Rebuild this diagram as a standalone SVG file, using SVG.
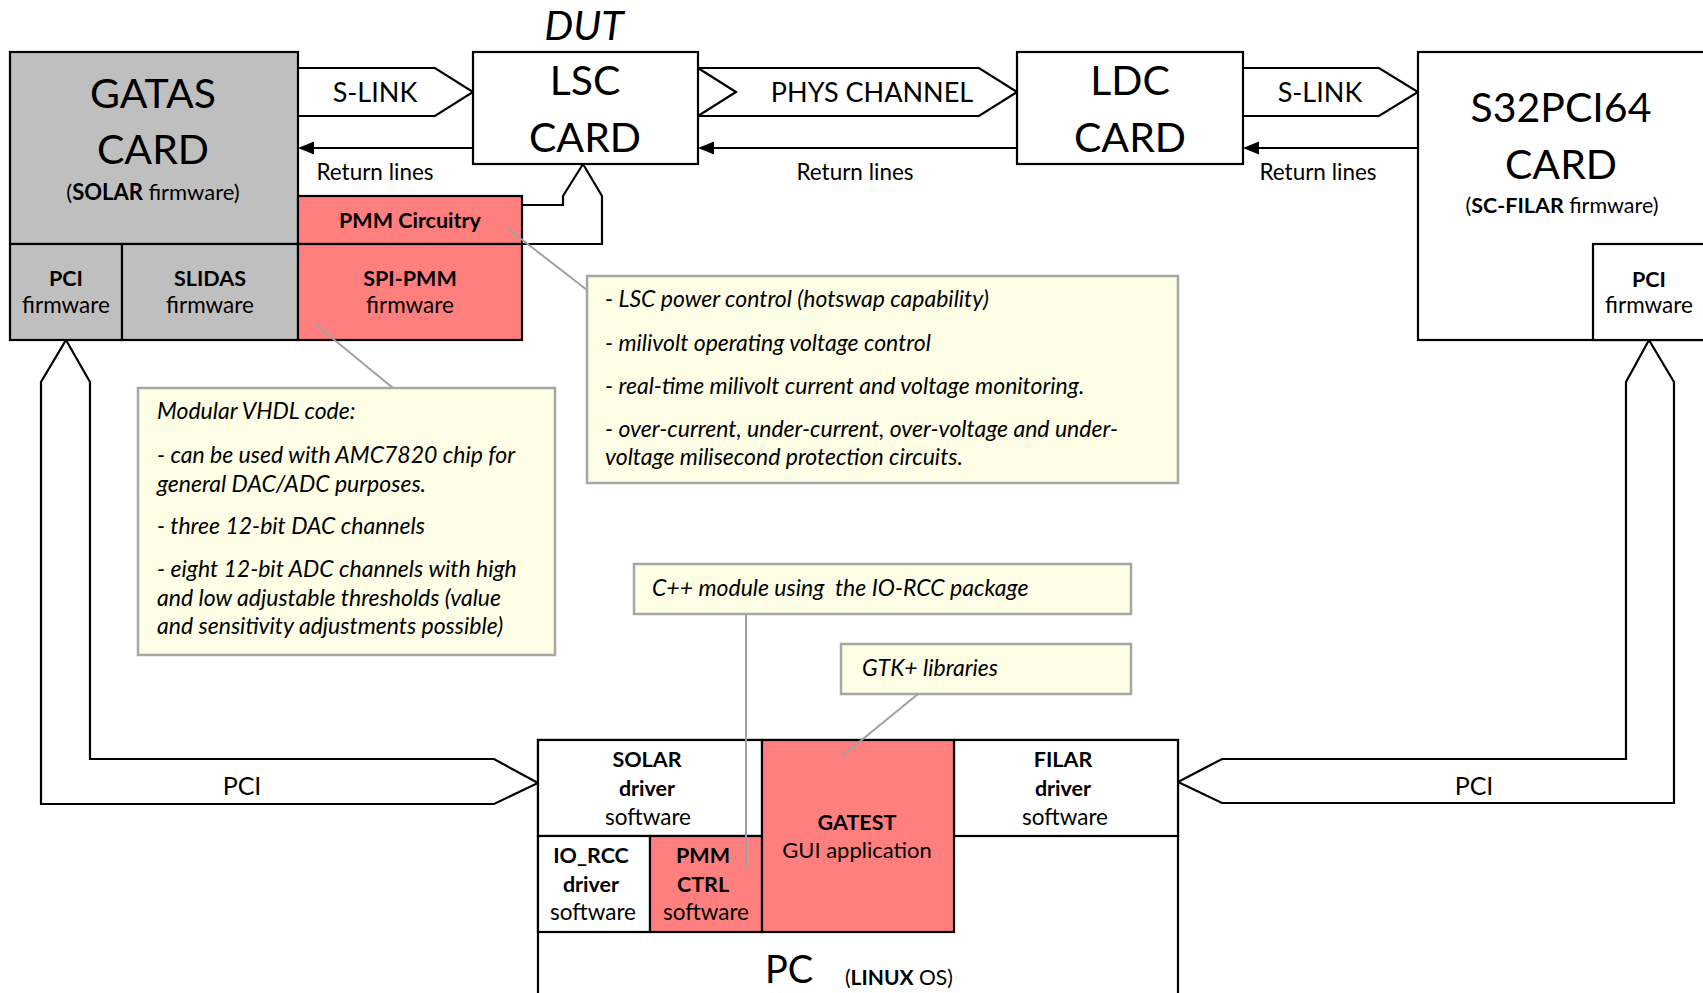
<svg xmlns="http://www.w3.org/2000/svg" width="1703" height="993" viewBox="0 0 1703 993">
<defs>
<style>
text{font-family:"Lato","Open Sans",sans-serif;fill:#000}
.c{text-anchor:middle}
.b{font-weight:bold}
.i{font-style:italic}
.box{stroke:#000;stroke-width:2.2}
.gray{fill:#BFBFBF}
.pink{fill:#FF7F7F}
.white{fill:#fff}
.note{fill:#FEFEE6;stroke:#A6A6A6;stroke-width:2.5}
.call{stroke:#A0A0A0;stroke-width:2;fill:none}
.conn{stroke:#000;stroke-width:2.2;fill:none}
.fat{stroke:#000;stroke-width:2.2;fill:#fff}
.big{font-size:41px}
.mid{font-size:27px}
.sm{font-size:22.5px}
.sb{font-size:21.5px;font-weight:bold}
.rl{font-size:22.5px}
.nt{font-size:23px;font-style:italic;white-space:pre}
</style>
</defs>

<g id="connectors">
<path class="fat" d="M298,68 H435 L473,92 L435,116 H298"/>
<path class="fat" d="M698,68 H979 L1017,92 L979,116 H698 L736,92 Z"/>
<path class="fat" d="M1243,68 H1379 L1418,92 L1379,116 H1243"/>
<line class="conn" x1="473" y1="148" x2="314" y2="148"/>
<path d="M298,148 L314,141.5 L314,154.5 Z" fill="#000"/>
<line class="conn" x1="1017" y1="148" x2="714" y2="148"/>
<path d="M698,148 L714,141.5 L714,154.5 Z" fill="#000"/>
<line class="conn" x1="1418" y1="148" x2="1259" y2="148"/>
<path d="M1243,148 L1259,141.5 L1259,154.5 Z" fill="#000"/>
<path class="conn" d="M522,205 H563 V196 L583,164 L602,196 V244 H522"/>
<path class="fat" d="M66,340 L90,382 V759 H494 L538,783 L494,804 H41 V382 Z"/>
<path class="fat" d="M1649,340 L1674,382 V803 H1222 L1178,782 L1222,759 H1626 V382 Z"/>
<text class="c" x="242" y="795" style="font-size:25px">PCI</text>
<text class="c" x="1474" y="795" style="font-size:25px">PCI</text>
<text class="c mid" x="375" y="102">S-LINK</text>
<text class="c mid" x="872" y="102">PHYS CHANNEL</text>
<text class="c mid" x="1320" y="102">S-LINK</text>
<text class="c rl" x="375" y="180">Return lines</text>
<text class="c rl" x="855" y="180">Return lines</text>
<text class="c rl" x="1318" y="180">Return lines</text>
</g>

<g id="gatas">
<rect class="box gray" x="10" y="52" width="288" height="192"/>
<text class="c big" x="153" y="108">GATAS</text>
<text class="c big" x="153" y="164">CARD</text>
<text class="c sm" x="153" y="200" style="font-size:22px">(<tspan class="b">SOLAR</tspan> firmware)</text>
</g>
<g id="gatas-pci">
<rect class="box gray" x="10" y="244" width="112" height="96"/>
<text class="c sb" x="66" y="286">PCI</text>
<text class="c sm" x="66" y="313">firmware</text>
</g>
<g id="slidas">
<rect class="box gray" x="122" y="244" width="176" height="96"/>
<text class="c sb" x="210" y="286">SLIDAS</text>
<text class="c sm" x="210" y="313">firmware</text>
</g>
<g id="pmm-circuitry">
<rect class="box pink" x="298" y="196" width="224" height="48"/>
<text class="c sb" x="410" y="228">PMM Circuitry</text>
</g>
<g id="spi-pmm">
<rect class="box pink" x="298" y="244" width="224" height="96"/>
<text class="c sb" x="410" y="286">SPI-PMM</text>
<text class="c sm" x="410" y="313">firmware</text>
</g>

<g id="lsc">
<text class="c big i" x="584" y="40">DUT</text>
<rect class="box white" x="473" y="52" width="225" height="112"/>
<text class="c big" x="585" y="95">LSC</text>
<text class="c big" x="585" y="152">CARD</text>
</g>

<g id="ldc">
<rect class="box white" x="1017" y="52" width="226" height="112"/>
<text class="c big" x="1130" y="95">LDC</text>
<text class="c big" x="1130" y="152">CARD</text>
</g>

<g id="s32pci64">
<rect class="box white" x="1418" y="52" width="300" height="288"/>
<text class="c big" x="1561" y="122">S32PCI64</text>
<text class="c big" x="1561" y="179">CARD</text>
<text class="c" x="1562" y="213" style="font-size:21.5px">(<tspan class="b">SC-FILAR</tspan> firmware)</text>
</g>
<g id="s32-pci">
<rect class="box white" x="1593" y="244" width="125" height="96"/>
<text class="c sb" x="1649" y="287">PCI</text>
<text class="c sm" x="1649" y="313">firmware</text>
</g>

<g id="note-pmm">
<line class="call" x1="507" y1="228" x2="587" y2="290"/>
<rect class="note" x="587" y="276" width="591" height="207"/>
<text class="nt" x="605" y="307">- LSC power control (hotswap capability)</text>
<text class="nt" x="605" y="351">- milivolt operating voltage control</text>
<text class="nt" x="605" y="394">- real-time milivolt current and voltage monitoring.</text>
<text class="nt" x="605" y="437">- over-current, under-current, over-voltage and under-</text>
<text class="nt" x="605" y="465">voltage milisecond protection circuits.</text>
</g>

<g id="note-vhdl">
<line class="call" x1="315" y1="324" x2="393" y2="388"/>
<rect class="note" x="138" y="388" width="417" height="267"/>
<text class="nt" x="157" y="419">Modular VHDL code:</text>
<text class="nt" x="157" y="463">- can be used with AMC7820 chip for</text>
<text class="nt" x="157" y="492">general DAC/ADC purposes.</text>
<text class="nt" x="157" y="534">- three 12-bit DAC channels</text>
<text class="nt" x="157" y="577">- eight 12-bit ADC channels with high</text>
<text class="nt" x="157" y="606">and low adjustable thresholds (value</text>
<text class="nt" x="157" y="634">and sensitivity adjustments possible)</text>
</g>

<g id="pc">
<rect class="box white" x="538" y="740" width="640" height="270"/>
<text class="c" x="789" y="983" style="font-size:38px">PC</text>
<text x="845" y="985" style="font-size:21px">(<tspan class="b">LINUX</tspan> OS)</text>
</g>
<g id="solar-driver">
<rect class="box white" x="538" y="740" width="224" height="96"/>
<text class="c sb" x="647" y="767">SOLAR</text>
<text class="c sb" x="647" y="796">driver</text>
<text class="c sm" x="648" y="825">software</text>
</g>
<g id="filar-driver">
<rect class="box white" x="954" y="740" width="224" height="96"/>
<text class="c sb" x="1063" y="767">FILAR</text>
<text class="c sb" x="1063" y="796">driver</text>
<text class="c sm" x="1065" y="825">software</text>
</g>
<g id="io-rcc">
<rect class="box white" x="538" y="836" width="112" height="96"/>
<text class="c sb" x="591" y="863">IO_RCC</text>
<text class="c sb" x="591" y="892">driver</text>
<text class="c sm" x="593" y="920">software</text>
</g>
<g id="pmm-ctrl">
<rect class="box pink" x="650" y="836" width="112" height="96"/>
<text class="c sb" x="703" y="863">PMM</text>
<text class="c sb" x="703" y="892">CTRL</text>
<text class="c sm" x="706" y="920">software</text>
</g>
<g id="gatest">
<rect class="box pink" x="762" y="740" width="192" height="192"/>
<text class="c sb" x="857" y="830">GATEST</text>
<text class="c sm" x="857" y="858" style="font-size:22px">GUI application</text>
</g>

<g id="note-cpp">
<rect class="note" x="634" y="564" width="497" height="50"/>
<text class="nt" x="652" y="596">C++ module using  the IO-RCC package</text>
<line class="call" x1="746" y1="614" x2="746" y2="867"/>
</g>
<g id="note-gtk">
<rect class="note" x="841" y="644" width="290" height="50"/>
<text class="nt" x="862" y="676">GTK+ libraries</text>
<line class="call" x1="918" y1="694" x2="842" y2="756"/>
</g>
</svg>
